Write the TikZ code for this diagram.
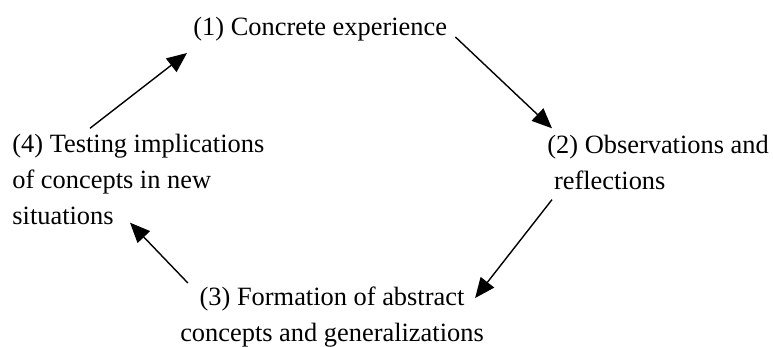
\documentclass[tikz,border=0pt]{standalone}
\usepackage{fontspec}
\setmainfont{Liberation Serif}
\usetikzlibrary{arrows.meta}
\begin{document}
\begin{tikzpicture}[
  x=0.5pt, y=0.5pt,
  stage/.style={inner sep=0pt, font=\fontsize{13.2}{18}\selectfont},
  arr/.style={line width=0.7pt, -{Triangle[length=10pt, width=8.5pt]}}
]
\useasboundingbox (0,0) rectangle (773,347);
% the base of a node with several lines is its last line
\node[stage, anchor=base west] (exp) at (193,311) {(1) Concrete experience};
\node[stage, anchor=base west, align=left] (obs) at (547,157) {(2) Observations and\\\ reflections};
\node[stage, anchor=base, align=center] (abs) at (332,5) {(3) Formation of abstract\\concepts and generalizations};
\node[stage, anchor=base west, align=left] (test) at (12,122) {(4) Testing implications\\of concepts in new\\situations};

\draw[arr] ([shift={(8,-1)}]exp.base east) -- ([shift={(5,7)}]obs.north west);
\draw[arr] ([shift={(5,-9)}]obs.south west) -- ([shift={(-9,-11)}]abs.north east);
\draw[arr] ([shift={(8,4)}]abs.north west) -- ([shift={(118,3)}]test.south west);
\draw[arr] ([shift={(78,6)}]test.north west) -- ([shift={(-6,-11)}]exp.south west);
\end{tikzpicture}
\end{document}
